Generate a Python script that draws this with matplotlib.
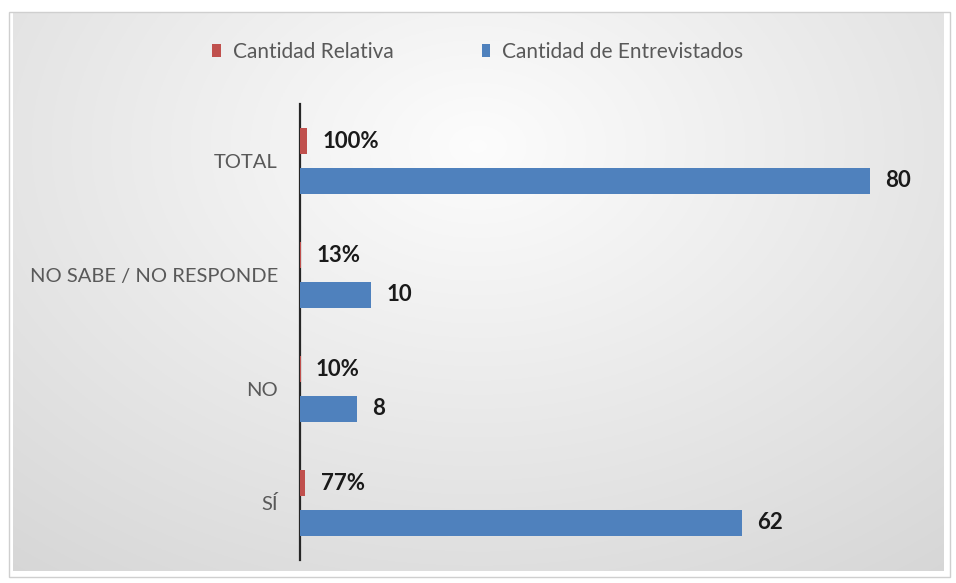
import numpy as np
import matplotlib
matplotlib.use("Agg")
import matplotlib.pyplot as plt
from matplotlib.patches import Rectangle

categories = ["SÍ", "NO", "NO SABE / NO RESPONDE", "TOTAL"]
relativa = [0.77, 0.10, 0.13, 1.00]
relativa_labels = ["77%", "10%", "13%", "100%"]
entrevistados = [62, 8, 10, 80]
series_names = ["Cantidad Relativa", "Cantidad de Entrevistados"]
colors = ["#C0504D", "#4F81BD"]

plt.rcParams['font.family'] = ['Lato', 'DejaVu Sans']

W, H = 956, 583
fig = plt.figure(figsize=(W / 100, H / 100), dpi=100)

# background gradient
bg = fig.add_axes([0, 0, 1, 1], zorder=-10)
yy, xx = np.mgrid[0:1:300j, 0:1:500j]
r = np.sqrt(((xx - 0.5) / 0.85) ** 2 + ((yy - 0.25) / 1.0) ** 2)
r = np.clip(r, 0, 1)
top = np.array([0.99, 0.99, 0.99])
edge = np.array([0.83, 0.83, 0.83])
img = top[None, None, :] * (1 - r[..., None]) + edge[None, None, :] * r[..., None]
bg.imshow(img, extent=[0, 1, 1, 0], aspect='auto')
bg.set_xlim(0, 1)
bg.set_ylim(1, 0)
bg.axis('off')
# white margin and border
fig.patches.append(Rectangle((0, 0), 1, 1, transform=fig.transFigure, fill=False,
                             edgecolor='white', linewidth=18, zorder=-5))
fig.patches.append(Rectangle((9 / W, 1 - 577 / H), 941 / W, 565 / H, transform=fig.transFigure,
                             fill=False, edgecolor='#cfcfcf', linewidth=1, zorder=-4))

ax_left, ax_right = 300 / W, 930 / W
ax_top, ax_bot = 104 / H, 560 / H
ax = fig.add_axes([ax_left, 1 - ax_bot, ax_right - ax_left, ax_bot - ax_top])
ax.patch.set_alpha(0)

y = np.arange(len(categories))
h = 0.235
off = 0.175
xmax = (930 - 300) / 7.125
ax.barh(y + off, relativa, height=h, color=colors[0], label=series_names[0], zorder=3)
ax.barh(y - off, entrevistados, height=h, color=colors[1], label=series_names[1], zorder=3)

for yi, v, lab in zip(y, relativa, relativa_labels):
    ax.annotate(lab, (v, yi + off), xytext=(11, 0), textcoords='offset points',
                va='center', ha='left', fontsize=16, fontweight='bold', color='#1a1a1a')
for yi, v in zip(y, entrevistados):
    ax.annotate(str(v), (v, yi - off), xytext=(11, 0), textcoords='offset points',
                va='center', ha='left', fontsize=16, fontweight='bold', color='#1a1a1a')

ax.set_xlim(0, xmax)
ax.set_ylim(-0.5, len(categories) - 0.5)
ax.set_yticks(y)
ax.set_yticklabels(categories, fontsize=14.5, color='#595959')
ax.tick_params(axis='y', length=0, pad=16)
ax.set_xticks([])
for s in ['top', 'right', 'bottom']:
    ax.spines[s].set_visible(False)
ax.spines['left'].set_color('#262626')
ax.spines['left'].set_linewidth(1.6)

handles, labels = ax.get_legend_handles_labels()
fig.legend(handles, labels, loc='center', bbox_to_anchor=(0.5, 1 - 52 / H), ncol=2,
           frameon=False, fontsize=15, labelcolor='#595959', handlelength=0.4,
           handleheight=0.6, handletextpad=0.6, columnspacing=4.2)

fig.savefig("out.png", dpi=100)
